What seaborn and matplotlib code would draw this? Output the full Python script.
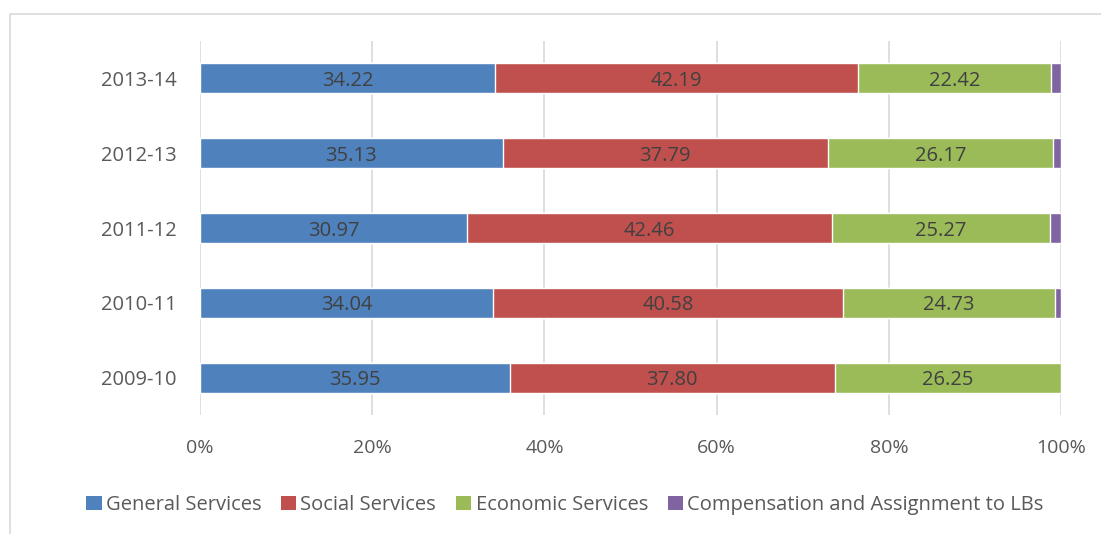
import pandas as pd
import numpy as np
import matplotlib
matplotlib.use("Agg")
import matplotlib.pyplot as plt
import seaborn as sns
from matplotlib.patches import Rectangle, Patch

# data (share of expenditure, %)
years = ['2013-14', '2012-13', '2011-12', '2010-11', '2009-10']
general = [34.22, 35.13, 30.97, 34.04, 35.95]
social = [42.19, 37.79, 42.46, 40.58, 37.80]
economic = [22.42, 26.17, 25.27, 24.73, 26.25]
compensation = [1.17, 0.91, 1.30, 0.65, 0.00]

series_names = ['General Services', 'Social Services', 'Economic Services',
                'Compensation and Assignment to LBs']
colors = ['#4F81BD', '#C0504D', '#9BBB59', '#8064A2']

sns.set_theme(style='white')
plt.rcParams['font.family'] = ['Open Sans', 'DejaVu Sans']

df = pd.DataFrame({'year': years, 'General Services': general,
                   'Social Services': social, 'Economic Services': economic,
                   'Compensation and Assignment to LBs': compensation})
cum = df[series_names].cumsum(axis=1)

fig = plt.figure(figsize=(11.01, 5.34), dpi=100)
ax = fig.add_axes([0.1817, 0.222, 0.782, 0.702])

# chart frame like the original office export
fig.patches.append(Rectangle((10 / 1101, -0.1), 1.2, 1 - 14 / 534 + 0.1,
                             transform=fig.transFigure, fill=False,
                             edgecolor='#D9D9D9', linewidth=1.2, zorder=0))

# stacked bars: draw cumulative totals from the right-most segment backwards
for name, col in reversed(list(zip(series_names, colors))):
    sns.barplot(x=cum[name], y=df['year'], color=col, orient='h',
                width=0.4, ax=ax, saturation=1, zorder=3)

# value labels in the middle of the first three segments
for i in range(len(years)):
    left = 0
    for name in series_names[:3]:
        v = df[name].iloc[i]
        ax.text(left + v / 2, i, f"{v:.2f}", ha='center', va='center_baseline',
                color='#404040', fontsize=14.5, zorder=5)
        left += v

ax.set_xlim(0, 100)
ax.set_ylim(4.5, -0.5)
ax.set_xticks(np.arange(0, 101, 20))
ax.set_xticklabels([f"{t}%" for t in range(0, 101, 20)])
ax.xaxis.grid(True, color='#D9D9D9', linewidth=1.2, zorder=0)
ax.set_axisbelow(True)
for s in ax.spines.values():
    s.set_visible(False)
ax.tick_params(axis='x', length=0, pad=17, labelsize=14, labelcolor='#595959')
ax.tick_params(axis='y', length=0, pad=17, labelsize=14.5, labelcolor='#595959')
ax.set_xlabel('')
ax.set_ylabel('')

handles = [Patch(facecolor=c, edgecolor='none') for c in colors]
fig.legend(handles, series_names, loc='center', bbox_to_anchor=(565 / 1101, 1 - 505 / 534),
           ncol=4, frameon=False, fontsize=14.5, handlelength=0.75, handleheight=0.75,
           handletextpad=0.2, columnspacing=1.0, labelcolor='#595959')

fig.savefig('out.png', dpi=100)
